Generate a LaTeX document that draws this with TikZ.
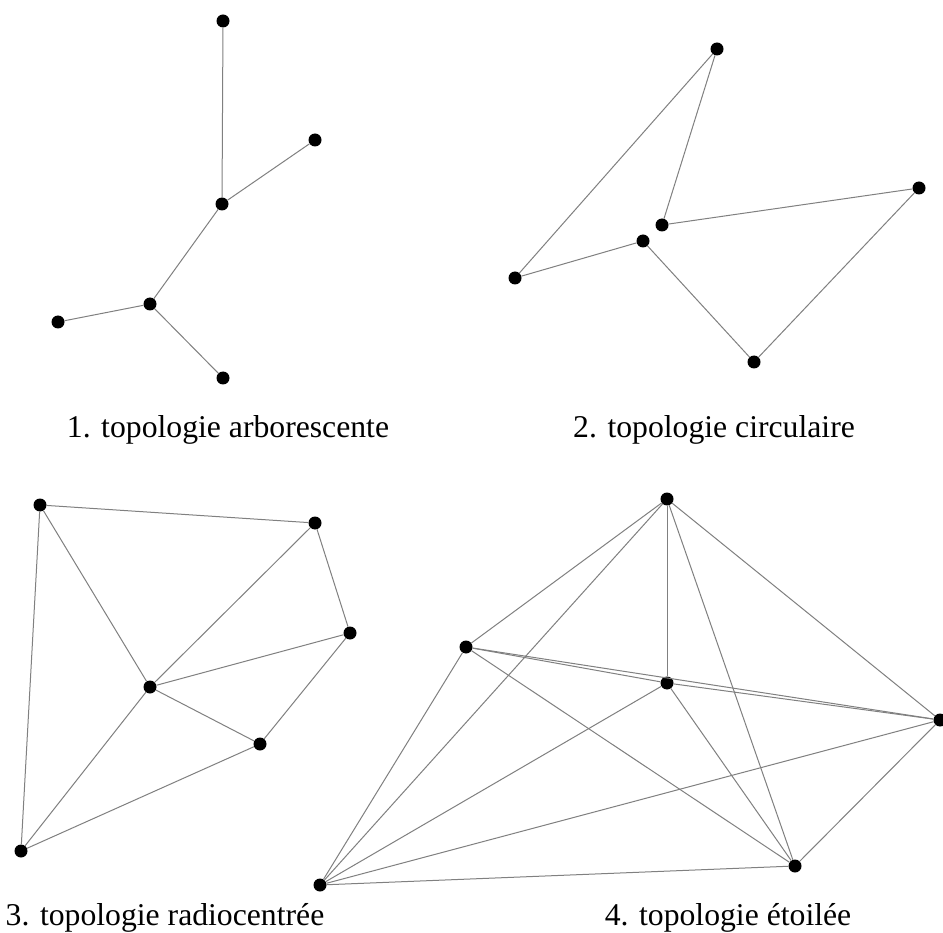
\documentclass[tikz,border=0pt]{standalone}
\usepackage{fontspec}
\setmainfont{Liberation Serif}
\tikzset{
  dot/.style={circle,fill=black,inner sep=0pt,minimum size=13pt},
  link/.style={draw=black!50,line width=1pt},
  caption/.style={anchor=base,inner sep=0pt,font=\fontsize{31.7}{38}\selectfont}
}
\begin{document}
\begin{tikzpicture}[x=1pt,y=-1pt]
\useasboundingbox[fill=white] (0,0) rectangle (943,933);
% Panel 1: tree
\node[dot] (a1) at (223,21) {};
\node[dot] (a2) at (315,140) {};
\node[dot] (a3) at (222,204) {};
\node[dot] (a4) at (150,304) {};
\node[dot] (a5) at (58,322) {};
\node[dot] (a6) at (223,378) {};
\draw[link] (a1) -- (a3);
\draw[link] (a2) -- (a3);
\draw[link] (a3) -- (a4);
\draw[link] (a4) -- (a5);
\draw[link] (a4) -- (a6);
\node[caption] (t1) at (228,437) {1. topologie arborescente};
% Panel 2: ring
\node[dot] (b1) at (717,49) {};
\node[dot] (b2) at (919,188) {};
\node[dot] (b3) at (662,225) {};
\node[dot] (b4) at (643,241) {};
\node[dot] (b5) at (515,278) {};
\node[dot] (b6) at (754,362) {};
\draw[link] (b1) -- (b3);
\draw[link] (b3) -- (b2);
\draw[link] (b2) -- (b6);
\draw[link] (b6) -- (b4);
\draw[link] (b4) -- (b5);
\draw[link] (b5) -- (b1);
\node[caption] (t2) at (714,437) {2. topologie circulaire};
% Panel 3: radiocentree
\node[dot] (c1) at (40,505) {};
\node[dot] (c2) at (315,523) {};
\node[dot] (c3) at (350,633) {};
\node[dot] (c4) at (150,687) {};
\node[dot] (c5) at (260,744) {};
\node[dot] (c6) at (21,851) {};
\draw[link] (c1) -- (c2);
\draw[link] (c2) -- (c3);
\draw[link] (c3) -- (c5);
\draw[link] (c1) -- (c4);
\draw[link] (c2) -- (c4);
\draw[link] (c3) -- (c4);
\draw[link] (c4) -- (c5);
\draw[link] (c1) -- (c6);
\draw[link] (c4) -- (c6);
\draw[link] (c5) -- (c6);
\node[caption] (t3) at (165,925) {3. topologie radiocentrée};
% Panel 4: full mesh
\node[dot] (d1) at (667,499) {};
\node[dot] (d2) at (466,647) {};
\node[dot] (d3) at (667,683) {};
\node[dot] (d4) at (940,720) {};
\node[dot] (d5) at (795,866) {};
\node[dot] (d6) at (320,885) {};
\foreach \s/\t in {d1/d2,d1/d3,d1/d4,d1/d5,d1/d6,d2/d3,d2/d4,d2/d5,d2/d6,d3/d4,d3/d5,d3/d6,d4/d5,d4/d6,d5/d6}
  \draw[link] (\s) -- (\t);
\node[caption] (t4) at (728,925) {4. topologie étoilée};
\end{tikzpicture}
\end{document}
